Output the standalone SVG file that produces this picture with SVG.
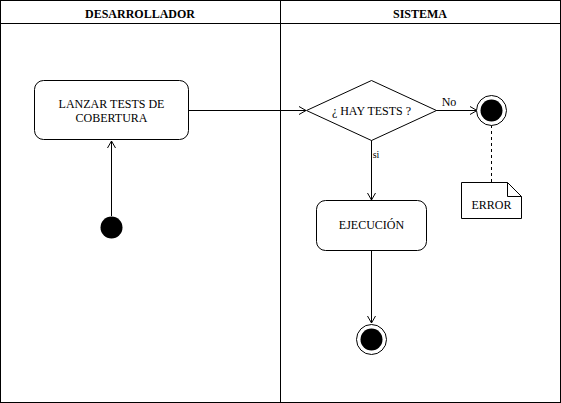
<svg xmlns="http://www.w3.org/2000/svg" width="561" height="403" viewBox="0 0 561 403">
<defs>
<style>
text{font-family:"Liberation Serif","Times New Roman",serif;font-size:12px;fill:#000;text-anchor:middle}
.hdr{font-weight:bold;font-size:12px}
.ln{fill:none;stroke:#000;stroke-width:1}
.box{fill:#fff;stroke:#000;stroke-width:1}
</style>
<marker id="arr" markerWidth="10" markerHeight="10" refX="8" refY="5" orient="auto" markerUnits="userSpaceOnUse">
<path d="M1,1 L8,5 L1,9" fill="none" stroke="#000" stroke-width="1"/>
</marker>
</defs>
<rect width="561" height="403" fill="#fff"/>
<g id="lanes">
<rect x="0.5" y="0.5" width="560" height="402" class="ln"/>
<line x1="0.5" y1="23.5" x2="560.5" y2="23.5" class="ln"/>
<line x1="280.5" y1="0.5" x2="280.5" y2="402.5" class="ln"/>
<text x="140" y="18" class="hdr">DESARROLLADOR</text>
<text x="420" y="18" class="hdr">SISTEMA</text>
</g>
<g id="connectors">
<line x1="111.5" y1="216" x2="111.5" y2="141" class="ln" marker-end="url(#arr)"/>
<line x1="189" y1="110.5" x2="306" y2="110.5" class="ln" marker-end="url(#arr)"/>
<line x1="436" y1="110.5" x2="477" y2="110.5" class="ln" marker-end="url(#arr)"/>
<text x="449" y="106">No</text>
<line x1="371.5" y1="140" x2="371.5" y2="200" class="ln" marker-end="url(#arr)"/>
<text x="376" y="158" style="font-size:10px">si</text>
<line x1="371.5" y1="250" x2="371.5" y2="323" class="ln" marker-end="url(#arr)"/>
<line x1="491.5" y1="125" x2="491.5" y2="182" class="ln" stroke-dasharray="3,3"/>
</g>
<g id="start">
<circle cx="111.5" cy="227.5" r="11" fill="#000"/>
</g>
<g id="lanzar">
<rect x="34.5" y="80.5" width="154" height="59" rx="9" class="box"/>
<text x="111.5" y="108">LANZAR TESTS DE</text>
<text x="111.5" y="122">COBERTURA</text>
</g>
<g id="decision">
<polygon points="371.5,80.5 436.5,110.5 371.5,140.5 306.5,110.5" class="box"/>
<text x="371.5" y="115">¿ HAY TESTS ?</text>
</g>
<g id="end-error">
<circle cx="491.5" cy="110.5" r="15" class="box"/>
<circle cx="491.5" cy="110.5" r="11" fill="#000"/>
</g>
<g id="error-note">
<path d="M461.5,182.5 L507.5,182.5 L521.5,196.5 L521.5,218.5 L461.5,218.5 Z" class="box"/>
<path d="M507.5,182.5 L507.5,196.5 L521.5,196.5" class="ln"/>
<text x="491.5" y="209">ERROR</text>
</g>
<g id="ejecucion">
<rect x="316.5" y="200.5" width="110" height="50" rx="9" class="box"/>
<text x="371.5" y="229">EJECUCIÓN</text>
</g>
<g id="end">
<circle cx="371.5" cy="339.5" r="15" class="box"/>
<circle cx="371.5" cy="339.5" r="11" fill="#000"/>
</g>
</svg>
